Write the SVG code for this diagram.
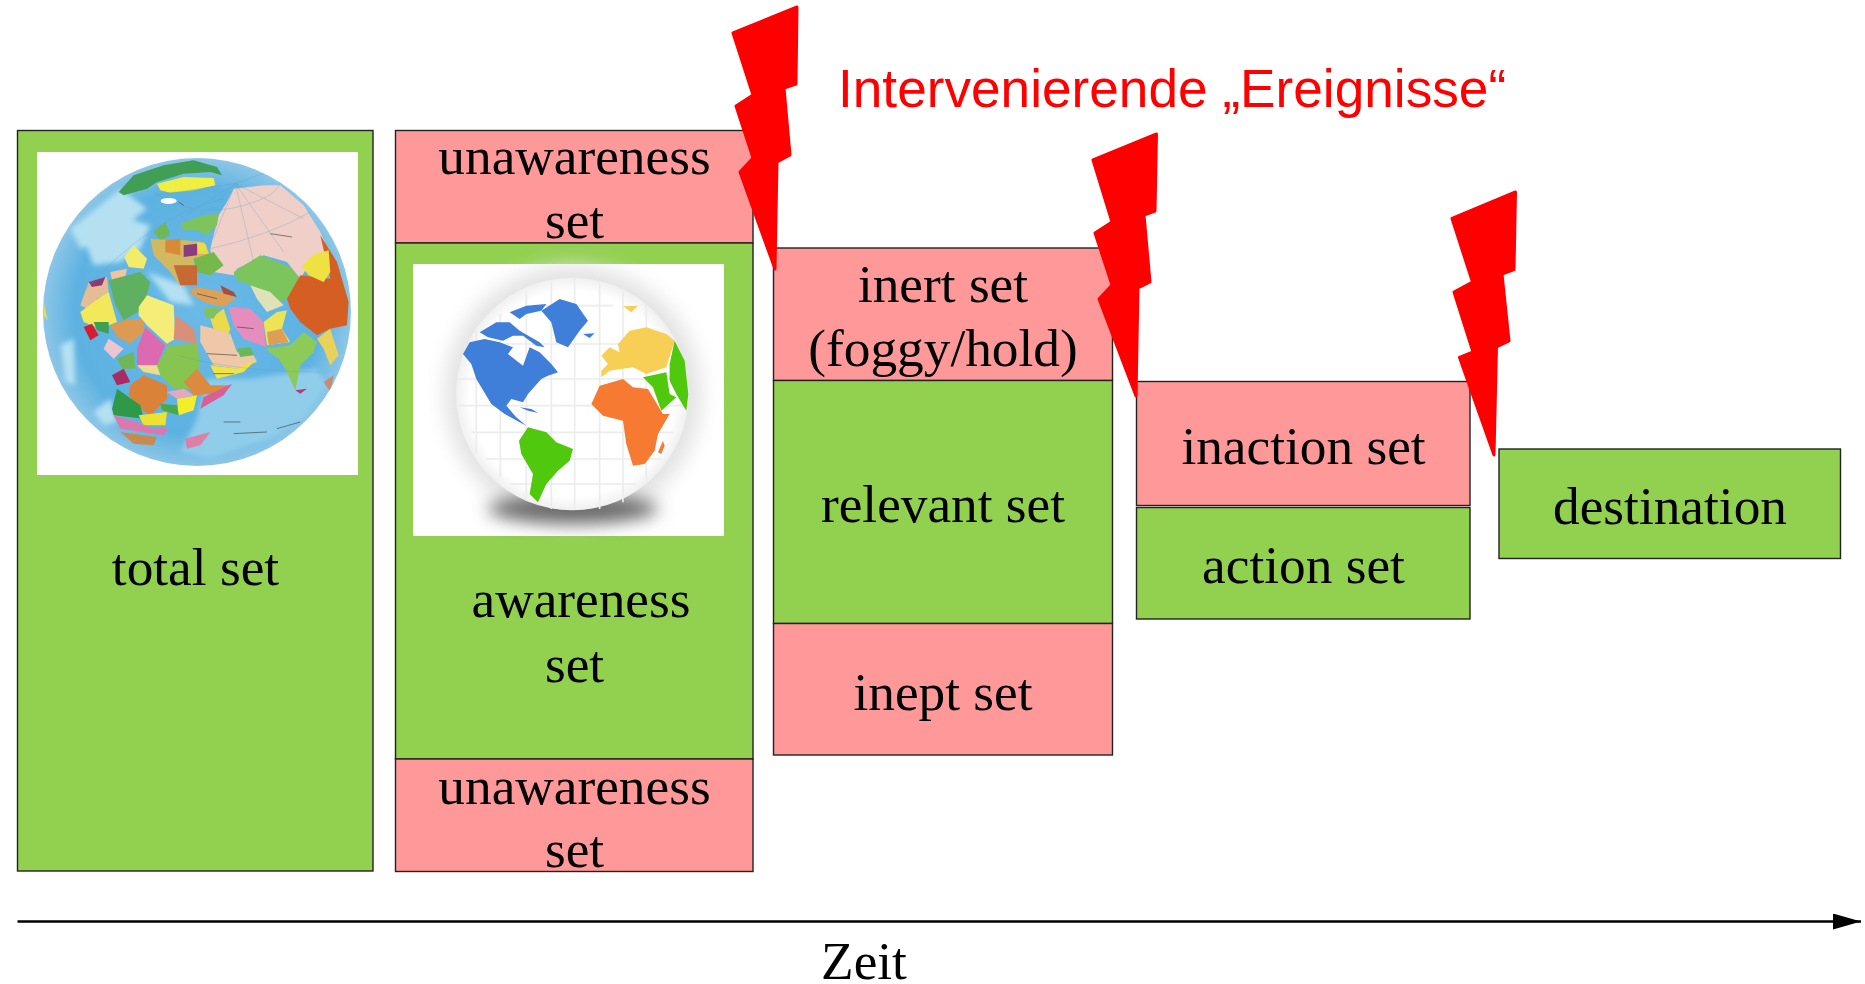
<svg xmlns="http://www.w3.org/2000/svg" width="1865" height="984" viewBox="0 0 1865 984">
<style>
.g{fill:#92d050;stroke:#222;stroke-width:1.4}
.p{fill:#ff9999;stroke:#222;stroke-width:1.4}
.t{font-family:"Liberation Serif","Times New Roman",serif;font-size:53.3px;fill:#000;text-anchor:middle}
.b{fill:#ff0000;stroke:#ff0000;stroke-width:3;stroke-linejoin:round}
.r{font-family:"Liberation Sans",Arial,sans-serif;font-size:53.2px;fill:#ff0000}
</style>
<defs>
<marker id="ah" markerUnits="userSpaceOnUse" markerWidth="30" markerHeight="20" refX="28" refY="8" orient="auto"><path d="M0 0L28 8L0 16z" fill="#000"/></marker>
<radialGradient id="ball" cx=".5" cy=".5" r=".5"><stop offset="0" stop-color="#fff"/><stop offset=".88" stop-color="#fff"/><stop offset="1" stop-color="#f0f0f0"/></radialGradient>
<radialGradient id="edge" cx=".5" cy=".5" r=".5"><stop offset="0" stop-color="#6ab9e6"/><stop offset=".8" stop-color="#5db2e2"/><stop offset="1" stop-color="#8cc6e6"/></radialGradient>
<filter id="blur" x="-30%" y="-60%" width="160%" height="220%"><feGaussianBlur stdDeviation="26"/></filter>
<filter id="halo" x="-30%" y="-30%" width="160%" height="160%"><feGaussianBlur stdDeviation="30"/></filter>
<filter id="soft" x="-10%" y="-10%" width="120%" height="120%"><feGaussianBlur stdDeviation="1.800"/></filter>
<filter id="cloud" x="-20%" y="-20%" width="140%" height="140%"><feGaussianBlur stdDeviation="8"/></filter>
<clipPath id="c1"><circle cx="480" cy="480" r="462"/></clipPath>
</defs>

<g id="total-set">
<rect class="g" x="17.500" y="130.500" width="355.500" height="740.500"/>
<rect x="37" y="152" width="321" height="323" fill="#fff"/>
<g id="globe-political" transform="translate(37,152) scale(.3333)">
<circle cx="480" cy="480" r="462" fill="url(#edge)"/>
<g clip-path="url(#c1)">
<g fill="#b4e0f2" filter="url(#cloud)">
<path d="M100 230L250 110L330 170L230 250L130 290z"/>
<path d="M140 260L240 190L340 220L310 290L250 330L170 340z"/>
<path d="M70 580L110 560L115 700L85 690z"/>
<path d="M170 780L220 740L240 810L200 820z"/>
<path d="M330 360L440 400L470 460L400 450z"/>
</g>
<path d="M510 680L640 680L840 650L870 700L800 800L700 860L520 920L430 900L480 800z" fill="#8fcdeb" filter="url(#cloud)"/>
<g filter="url(#soft)">
<path d="M20 450L32 505L20 490z" fill="#e8de5a"/>
<path d="M245 120L290 70L380 40L470 25L540 45L555 70L520 60L440 65L360 90L330 110L260 130z" fill="#3f9f55"/>
<path d="M360 95L440 75L530 78L535 100L470 115L400 122L370 115z" fill="#f0ee40"/>
<path d="M530 250L545 190L570 150L590 110L680 100L730 100L800 160L850 240L880 310L820 330L790 380L750 330L680 310L600 350L590 370L530 360L520 290z" fill="#f0cfc8"/>
<path d="M430 215L500 190L545 185L540 220L510 250L480 235L440 235z" fill="#7fc35c"/>
<path d="M350 240L385 210L400 250L370 265z" fill="#6eb858"/>
<path d="M340 260L400 265L440 265L500 270L520 310L470 320L480 380L430 400L400 360L350 310z" fill="#d4b85e"/>
<path d="M385 265L430 260L430 310L385 300z" fill="#d98a38"/>
<path d="M440 280L480 275L480 310L440 315z" fill="#8c3a80"/>
<path d="M480 270L505 275L515 305L485 305z" fill="#ecdb4a"/>
<path d="M470 320L530 300L560 340L520 370L480 360z" fill="#74b84c"/>
<path d="M410 340L480 340L480 400L430 400z" fill="#c66b35"/>
<path d="M262 315L290 280L330 320L320 350L275 345z" fill="#f2ec6a"/>
<path d="M220 360L270 350L265 375L225 385z" fill="#f0c49c"/>
<path d="M590 360L670 310L760 345L790 380L770 430L730 450L690 420L640 400L600 385z" fill="#7cc45c"/>
<path d="M640 400L700 420L740 460L690 480L660 440z" fill="#dfe1b8"/>
<path d="M750 440L790 370L880 380L850 250L900 330L935 450L930 520L880 530L840 550L790 510L760 470z" fill="#d55f22"/>
<path d="M795 345L825 310L875 295L880 360L860 390L815 370z" fill="#eee142"/>
<path d="M680 510L720 480L750 475L735 530L760 570L690 580z" fill="#eee255"/>
<path d="M690 540L735 530L755 570L695 580z" fill="#dd9f58"/>
<path d="M455 420L480 405L560 420L595 440L560 465L500 450z" fill="#dca058"/>
<path d="M550 400L590 420L600 435L560 425z" fill="#a84e3a"/>
<path d="M575 465L640 470L680 510L685 585L620 560L590 520z" fill="#e58dbd"/>
<path d="M520 500L560 470L580 530L575 545L530 530z" fill="#e9db48"/>
<path d="M500 470L550 465L530 500L505 495z" fill="#82c25c"/>
<path d="M490 520L530 530L580 545L600 600L650 610L660 630L600 650L530 640L490 570z" fill="#efc8aa"/>
<path d="M600 590L640 585L650 610L610 615z" fill="#68b858"/>
<path d="M520 640L600 650L660 620L620 660L540 680z" fill="#efe345"/>
<path d="M685 590L760 580L800 540L840 570L830 600L790 640L775 715L745 650L725 620z" fill="#8ccb58"/>
<path d="M840 560L880 530L905 610L880 640L860 590z" fill="#e9d25a"/>
<path d="M860 690L890 670L880 720z" fill="#c98a70"/>
<path d="M775 715L810 710L790 725z" fill="#b33a78"/>
<path d="M215 385L310 360L340 390L320 470L260 505L235 460z" fill="#5fb060"/>
<path d="M130 460L155 390L210 375L215 420L180 440L170 480z" fill="#e6bc94"/>
<path d="M155 390L205 375L195 400L165 405z" fill="#8c3a78"/>
<path d="M130 480L190 435L215 420L240 510L190 530L140 510z" fill="#f2e85a"/>
<path d="M140 525L165 515L185 550L160 565z" fill="#d61f30"/>
<path d="M170 510L215 510L215 545L180 535z" fill="#3c9f4f"/>
<path d="M220 520L260 505L320 500L320 540L280 575L240 555z" fill="#dc9a55"/>
<path d="M215 560L260 590L230 620L200 590z" fill="#ecc5d0"/>
<path d="M305 465L330 430L410 460L415 560L390 575L330 520L305 490z" fill="#f4ee78"/>
<path d="M415 490L470 530L480 575L410 560z" fill="#d98f78"/>
<path d="M325 525L385 580L360 640L300 640L300 590z" fill="#dc6bb0"/>
<path d="M360 640L395 580L480 575L490 640L460 710L410 710L370 670z" fill="#86c550"/>
<path d="M240 620L290 600L295 650L255 650z" fill="#6fb754"/>
<path d="M300 640L360 640L370 670L320 660z" fill="#ecdc90"/>
<path d="M440 690L480 650L520 700L585 700L530 725L470 730z" fill="#dc8a40"/>
<path d="M500 735L585 695L560 730L490 770z" fill="#d85e98"/>
<path d="M280 700L320 670L390 700L390 740L340 790L310 770L275 730z" fill="#d98238"/>
<path d="M225 670L260 650L280 690L240 700z" fill="#aa2a62"/>
<path d="M390 720L440 710L470 730L420 740z" fill="#e6a8c0"/>
<path d="M420 740L480 730L470 775L425 790z" fill="#f4ee2c"/>
<path d="M225 770L240 710L310 760L320 800L230 790z" fill="#2f9a4a"/>
<path d="M370 755L420 760L425 790L375 775z" fill="#49a84c"/>
<path d="M305 790L390 780L385 820L320 820z" fill="#ece230"/>
<path d="M230 790L300 810L350 830L395 825L380 850L250 830z" fill="#dc78b0"/>
<path d="M250 840L360 855L350 880L290 875z" fill="#c98a50"/>
<path d="M445 860L520 840L490 880L450 890z" fill="#e07ea8"/>
</g>
<g stroke="#5f9ec0" stroke-width="1.500" fill="none" opacity=".6">
<path d="M595 95L350 130M595 95L430 200M595 95L530 260M595 95L650 330M595 95L740 300M595 95L800 200M595 95L690 60M595 95L540 150"/>
<path d="M350 120Q450 190 580 170Q720 140 730 90M130 430Q340 190 560 140M520 290Q700 250 820 180M420 610Q600 660 850 660"/>
</g>
<ellipse cx="395" cy="147" rx="24" ry="9" fill="#fff" filter="url(#soft)"/>
<path d="M425 150L440 160M700 245L765 255M480 425L540 440M600 525L650 530M510 605L600 610M530 665L590 665M590 845L690 840M720 830L790 810M560 810L610 810" stroke="#444" stroke-width="3" fill="none" opacity=".65"/>
</g>
</g>
<text class="t" x="195.500" y="585">total set</text>
</g>

<g id="unawareness-set-top">
<rect class="p" x="395.500" y="130.500" width="357.500" height="112.500"/>
<text class="t" x="574.500" y="174">unawareness</text>
<text class="t" x="574.500" y="238">set</text>
</g>

<g id="awareness-set">
<rect class="g" x="395.500" y="243" width="357.500" height="516"/>
<rect x="413" y="264" width="311" height="272" fill="#fff"/>
<g id="globe-colored" transform="translate(413,264) scale(.3333)">
<ellipse cx="480" cy="390" rx="385" ry="385" fill="#e2e2e2" filter="url(#halo)"/>
<ellipse cx="480" cy="735" rx="255" ry="42" fill="#666" filter="url(#blur)"/>
<circle cx="478" cy="390" r="349" fill="url(#ball)"/>
<g stroke="#ececec" stroke-width="5" fill="none">
<path d="M170 240H790M130 345H826M135 425H820M175 505H780M220 585H745M290 660H670M360 125H600"/>
<path d="M190 200V570M262 150V640M340 80V710M415 50V735M485 45V735M560 50V735M630 70V715M700 120V650"/>
</g>
<g filter="url(#soft)">
<path d="M150 270L170 235L215 225L260 235L300 250L285 270L330 305L350 250L380 265L415 300L435 325L405 335L385 345L345 390L330 415L295 405L280 425L310 460L340 485L320 475L275 450L235 420L190 345L175 300z" fill="#3f7fd9"/>
<path d="M200 205L250 175L290 175L320 200L380 235L395 250L370 245L330 215L300 215L270 230L225 220z" fill="#3f7fd9"/>
<path d="M290 145L340 125L400 120L385 140L340 150L320 165z" fill="#3f7fd9"/>
<path d="M385 140L440 105L490 120L525 170L500 200L465 250L430 235L415 175z" fill="#3f7fd9"/>
<path d="M510 210L545 208L530 222z" fill="#3f7fd9"/>
<path d="M320 430L355 435L375 447L345 440z" fill="#3f7fd9"/>
<path d="M318 530L345 490L400 505L430 535L480 555L470 590L435 620L400 660L375 715L350 690L360 630L325 570z" fill="#4fc808"/>
<path d="M535 420L560 365L630 345L660 370L705 375L750 450L770 450L735 510L725 560L695 600L660 605L640 540L630 470L570 455z" fill="#f77a32"/>
<path d="M750 530L735 565L745 570L755 545z" fill="#f77a32"/>
<path d="M565 340L590 320L660 310L700 330L760 310L785 230L760 210L700 190L650 200L615 240L620 265L590 250L565 275L585 300L565 320z" fill="#f8cf55"/>
<path d="M630 127L675 125L655 145z" fill="#f8cf55"/>
<path d="M785 230L815 290L826 390L820 440L790 390L770 350L770 300z" fill="#4fc808"/>
<path d="M690 340L760 325L770 390L790 400L745 440L720 370z" fill="#4fc808"/>
</g>
</g>
<text class="t" x="581" y="617">awareness</text>
<text class="t" x="574.500" y="682">set</text>
</g>

<g id="unawareness-set-bottom">
<rect class="p" x="395.500" y="759" width="357.500" height="112.500"/>
<text class="t" x="574.500" y="804">unawareness</text>
<text class="t" x="574.500" y="867">set</text>
</g>

<g id="inert-set">
<rect class="p" x="773.500" y="248" width="339" height="132.500"/>
<text class="t" x="943" y="302">inert set</text>
<text class="t" x="943" y="366">(foggy/hold)</text>
</g>
<g id="relevant-set">
<rect class="g" x="773.500" y="380.500" width="339" height="243"/>
<text class="t" x="943" y="522">relevant set</text>
</g>
<g id="inept-set">
<rect class="p" x="773.500" y="623.500" width="339" height="131.500"/>
<text class="t" x="943" y="710">inept set</text>
</g>
<g id="inaction-set">
<rect class="p" x="1136.500" y="381.500" width="333.500" height="124"/>
<text class="t" x="1303.500" y="464">inaction set</text>
</g>
<g id="action-set">
<rect class="g" x="1136.500" y="507.500" width="333.500" height="111.500"/>
<text class="t" x="1303.500" y="583">action set</text>
</g>
<g id="destination">
<rect class="g" x="1499" y="449" width="341.500" height="109.500"/>
<text class="t" x="1670" y="524">destination</text>
</g>

<g id="connectors">
<line x1="17.500" y1="921.500" x2="1861" y2="921.500" stroke="#000" stroke-width="2.400" marker-end="url(#ah)"/>
</g>
<text class="t" x="864" y="979">Zeit</text>

<g id="events">
<path id="bolt-1" class="b" d="M797 7L733 33L753 95L736 106L753 158L740 172L775 269L777 162L790 155L784 88L796 84z"/>
<path id="bolt-2" class="b" d="M1156.500 134L1093 160L1112 222L1095 233L1112 285L1099 299L1136 396L1138 288L1150 282L1144 215L1155 211z"/>
<path id="bolt-3" class="b" d="M1515.500 192L1452 218.500L1472.500 282L1454 292L1473 352L1459.500 357.500L1494 455L1496.500 347L1509 341L1502 274L1514 269.500z"/>
<text id="events-label" class="r" x="838" y="107">Intervenierende „Ereignisse“</text>
</g>
</svg>
